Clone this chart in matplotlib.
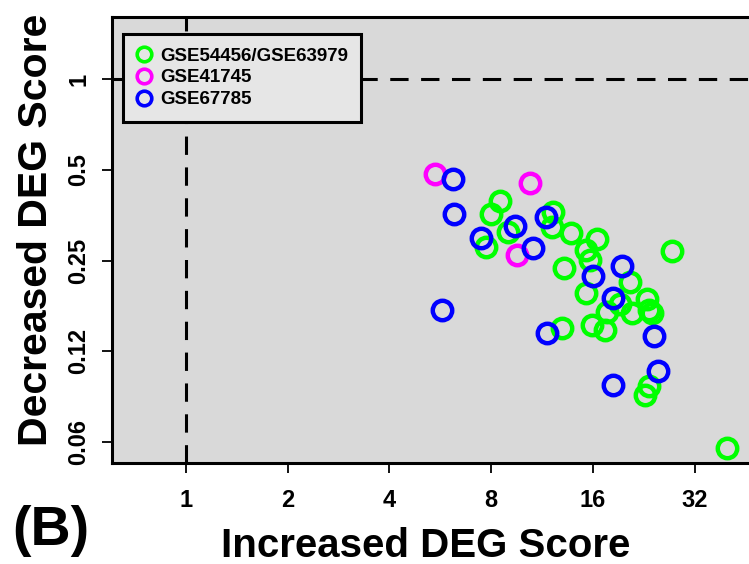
import matplotlib
matplotlib.use("Agg")
import matplotlib.pyplot as plt
from matplotlib.lines import Line2D

plt.rcParams['font.family'] = ['Liberation Sans', 'DejaVu Sans']
plt.rcParams['font.weight'] = 'bold'

# data (increased score, decreased score)
green_x = [8.5, 7.98, 7.73, 9.0, 12.2, 12.1, 13.8, 16.4, 15.3, 15.7, 13.1, 27.4, 20.6,
           15.3, 19.3, 20.9, 23.1, 23.4, 23.9, 15.9, 17.4, 13.0, 23.4, 22.8, 39.8, 17.6]
green_y = [0.395, 0.357, 0.278, 0.312, 0.363, 0.324, 0.309, 0.294, 0.271, 0.251, 0.237, 0.268, 0.213,
           0.195, 0.180, 0.167, 0.186, 0.171, 0.167, 0.153, 0.147, 0.149, 0.096, 0.0896, 0.0598, 0.169]
magenta_x = [5.46, 10.43, 9.53]
magenta_y = [0.484, 0.451, 0.261]
blue_x = [6.16, 6.19, 7.45, 9.42, 10.62, 11.61, 5.71, 11.74, 16.06, 19.48, 18.32, 24.28, 24.9, 18.32]
blue_y = [0.465, 0.357, 0.296, 0.325, 0.276, 0.349, 0.172, 0.144, 0.223, 0.240, 0.188, 0.141, 0.1075, 0.0964]

series_names = ['GSE54456/GSE63979', 'GSE41745', 'GSE67785']
series_colors = ['#00ff00', '#ff00ff', '#0000ff']

xticks = [1, 2, 4, 8, 16, 32]
xtick_labels = ['1', '2', '4', '8', '16', '32']
yticks = [0.0625, 0.125, 0.25, 0.5, 1]
ytick_labels = ['0.06', '0.12', '0.25', '0.5', '1']

W, H = 749, 564
fig = plt.figure(figsize=(W / 100, H / 100), dpi=100)
ax = fig.add_axes([112 / W, 1 - 463 / H, (752 - 112) / W, (463 - 17) / H])
ax.set_facecolor('#d9d9d9')
ax.set_xscale('log', base=2)
ax.set_yscale('log', base=2)
ax.set_xlim(0.604, 47.3)
ax.set_ylim(0.0533, 1.606)

ax.axhline(1, color='black', lw=2.2, ls=(0, (6, 4.1)), zorder=1)
ax.axvline(1, color='black', lw=2.2, ls=(0, (6, 4.1)), zorder=1)

all_x = [green_x, magenta_x, blue_x]
all_y = [green_y, magenta_y, blue_y]
for xs, ys, c in zip(all_x, all_y, series_colors):
    ax.plot(xs, ys, ls='none', marker='o', ms=14, mfc='none', mec=c, mew=3.2, zorder=3)

ax.set_xticks(xticks)
ax.set_xticklabels(xtick_labels)
ax.set_yticks(yticks)
ax.set_yticklabels(ytick_labels, rotation=90, va='center')
ax.minorticks_off()
ax.tick_params(axis='both', length=7.5, width=1.3, labelsize=17)
ax.tick_params(axis='x', pad=11)
ax.tick_params(axis='y', pad=8)
for sp in ax.spines.values():
    sp.set_linewidth(2.2)

handles = [Line2D([], [], ls='none', marker='o', ms=10.5, mfc='none', mec=c, mew=2.6)
           for c in series_colors]
leg = ax.legend(handles, series_names, loc='upper left',
                bbox_to_anchor=(123 / W, 1 - 34 / H), bbox_transform=fig.transFigure,
                borderaxespad=0, fancybox=False, framealpha=1, facecolor='#e6e6e6',
                edgecolor='black', fontsize=13.5, labelspacing=0.25, borderpad=0.72,
                handlelength=0.75, handletextpad=0.5)
leg.get_frame().set_linewidth(2.2)
leg.set_zorder(5)

fig.text(426 / W, 1 - 557 / H, 'Increased DEG Score', ha='center', va='baseline',
         fontsize=29, fontweight='bold')
fig.text(36 / W, 1 - 230 / H, 'Decreased DEG Score', ha='center', va='center',
         rotation=90, fontsize=29.5, fontweight='bold')
fig.text(12 / W, 1 - 531 / H, '(B)', ha='left', va='center', fontsize=40, fontweight='bold')

fig.savefig('out.png', dpi=100)
